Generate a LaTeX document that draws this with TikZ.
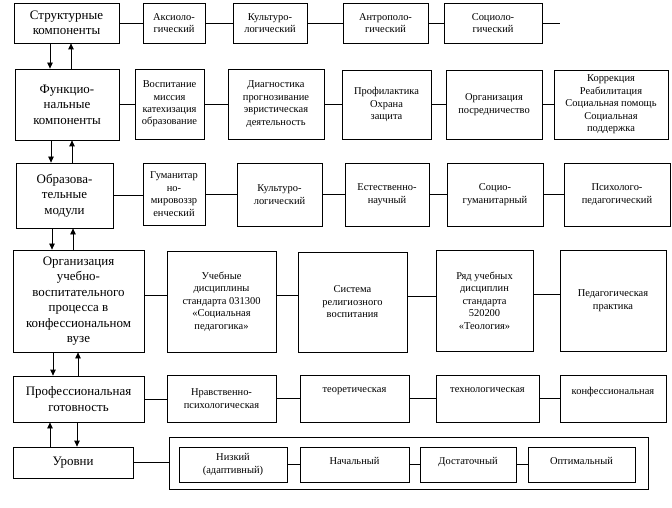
\documentclass[tikz,border=0pt]{standalone}
\usepackage{fontspec}
\setmainfont{Liberation Serif}
\usetikzlibrary{arrows.meta}

\tikzset{
  box/.style={draw,line width=0.8bp,inner sep=1bp,align=center},
  main/.style={box,font=\fontsize{13}{15.5}\selectfont},
  item/.style={box,font=\fontsize{10.5}{12.5}\selectfont},
  upper/.style={text depth=16bp},
  link/.style={line width=0.8bp},
  arr/.style={line width=0.8bp,-{Triangle[length=6bp,width=5.5bp]}}
}

\begin{document}
\begin{tikzpicture}[x=1bp,y=-1bp]
\useasboundingbox (0,0) rectangle (672,508);

% structural components
\node[main,minimum width=105bp,minimum height=40bp] (s0) at (66.5,23) {Структурные\\компоненты};
\node[item,minimum width=62bp,minimum height=40bp] (s1) at (174,23) {Аксиоло-\\гический};
\node[item,minimum width=74bp,minimum height=40bp] (s2) at (270,23) {Культуро-\\логический};
\node[item,minimum width=85bp,minimum height=40bp] (s3) at (385.5,23) {Антрополо-\\гический};
\node[item,minimum width=98bp,minimum height=40bp] (s4) at (493,23) {Социоло-\\гический};
\coordinate (s5) at (560,23);

% functional components
\node[main,minimum width=104bp,minimum height=71bp] (f0) at (67,104.5) {Функцио-\\нальные\\компоненты};
\node[item,minimum width=69bp,minimum height=70bp] (f1) at (169.5,104) {Воспитание\\миссия\\катехизация\\образование};
\node[item,minimum width=96bp,minimum height=70bp] (f2) at (276,104) {Диагностика\\прогнозивание\\эвристическая\\деятельность};
\node[item,minimum width=89bp,minimum height=69bp] (f3) at (386.5,104.5) {Профилактика\\Охрана\\защита};
\node[item,minimum width=96bp,minimum height=69bp] (f4) at (494,104.5) {Организация\\посредничество};
\node[item,minimum width=114bp,minimum height=69bp] (f5) at (611,104.5) {Коррекция\\Реабилитация\\Социальная помощь\\Социальная\\поддержка};

% educational modules
\node[main,minimum width=97bp,minimum height=65bp] (m0) at (64.5,195.5) {Образова-\\тельные\\модули};
\node[item,minimum width=62bp,minimum height=62bp] (m1) at (174,194) {Гуманитар\\но-\\мировоззр\\енческий};
\node[item,minimum width=85bp,minimum height=63bp] (m2) at (279.5,194.5) {Культуро-\\логический};
\node[item,minimum width=84bp,minimum height=63bp] (m3) at (387,194.5) {Естественно-\\научный};
\node[item,minimum width=96bp,minimum height=63bp] (m4) at (495,194.5) {Социо-\\гуманитарный};
\node[item,minimum width=106bp,minimum height=63bp] (m5) at (617,194.5) {Психолого-\\педагогический};

% organisation of the process
\node[main,minimum width=131bp,minimum height=102bp] (o0) at (78.5,301) {Организация\\учебно-\\воспитательного\\процесса в\\конфессиональном\\вузе};
\node[item,minimum width=109bp,minimum height=101bp] (o1) at (221.5,301.5) {Учебные\\дисциплины\\стандарта 031300\\«Социальная\\педагогика»};
\node[item,minimum width=109bp,minimum height=100bp] (o2) at (352.5,302) {Система\\религиозного\\воспитания};
\node[item,minimum width=97bp,minimum height=101bp] (o3) at (484.5,300.5) {Ряд учебных\\дисциплин\\стандарта\\520200\\«Теология»};
\node[item,minimum width=106bp,minimum height=101bp] (o4) at (613,300.5) {Педагогическая\\практика};

% readiness
\node[main,minimum width=131bp,minimum height=46bp] (p0) at (78.5,399) {Профессиональная\\готовность};
\node[item,minimum width=109bp,minimum height=47bp] (p1) at (221.5,398.5) {Нравственно-\\психологическая};
\node[item,upper,minimum width=109bp,minimum height=47bp] (p2) at (354.5,398.5) {теоретическая};
\node[item,upper,minimum width=103bp,minimum height=47bp] (p3) at (487.5,398.5) {технологическая};
\node[item,upper,minimum width=106bp,minimum height=47bp] (p4) at (613,398.5) {конфессиональная};

% levels
\node[main,minimum width=120bp,minimum height=31bp] (u0) at (73,462.5) {Уровни};
\node[draw,line width=0.8bp,minimum width=479bp,minimum height=52bp] (frame) at (408.5,463) {};
\node[item,minimum width=108bp,minimum height=35bp] (u1) at (233,464.5) {Низкий\\(адаптивный)};
\node[item,text depth=8bp,minimum width=109bp,minimum height=35bp] (u2) at (354.5,464.5) {Начальный};
\node[item,text depth=8bp,minimum width=96bp,minimum height=35bp] (u3) at (468,464.5) {Достаточный};
\node[item,text depth=8bp,minimum width=107bp,minimum height=35bp] (u4) at (581.5,464.5) {Оптимальный};

% horizontal links
\foreach \a/\b in {s0/s1,s1/s2,s2/s3,s3/s4,
                   f0/f1,f1/f2,f2/f3,f3/f4,f4/f5,
                   m0/m1,m1/m2,m2/m3,m3/m4,m4/m5,
                   p0/p1,p1/p2,p2/p3,p3/p4,
                   u0/frame,u1/u2,u2/u3,u3/u4}
  \draw[link] (\a.east) -- (\a.east -| \b.west);
\draw[link] (s4.east) -- (s4.east -| s5);
\foreach \a/\b in {o0/o1,o1/o2,o2/o3,o3/o4}
  \draw[link] ([yshift=6bp]\a.east) -- ([yshift=6bp]\a.east -| \b.west);

% vertical feedback arrows
\draw[arr] (s0.south -| 50,0) -- (f0.north -| 50,0);
\draw[arr] (f0.north -| 71,0) -- (s0.south -| 71,0);
\draw[arr] (f0.south -| 51,0) -- (m0.north -| 51,0);
\draw[arr] (m0.north -| 72,0) -- (f0.south -| 72,0);
\draw[arr] (m0.south -| 52,0) -- (o0.north -| 52,0);
\draw[arr] (o0.north -| 73,0) -- (m0.south -| 73,0);
\draw[arr] (o0.south -| 53,0) -- (p0.north -| 53,0);
\draw[arr] (p0.north -| 78,0) -- (o0.south -| 78,0);
\draw[arr] (u0.north -| 50,0) -- (p0.south -| 50,0);
\draw[arr] (p0.south -| 77,0) -- (u0.north -| 77,0);
\end{tikzpicture}
\end{document}
